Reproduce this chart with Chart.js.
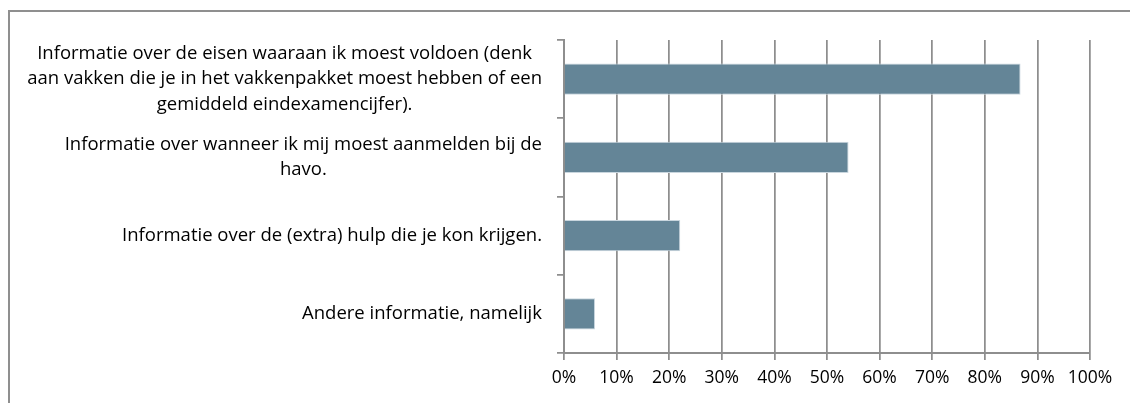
<!DOCTYPE html>
<html>
<head>
<meta charset="utf-8">
<script src="https://cdn.jsdelivr.net/npm/chart.js@4"></script>
<style>
  html, body { margin: 0; padding: 0; background: #fff; overflow: hidden; }
  #frame { position: absolute; left: 8px; top: 10px; width: 1140px; height: 420px;
           border-left: 2px solid #8f8f8f; border-top: 2px solid #8f8f8f; }
  #wrap { position: absolute; left: 0; top: 0; width: 1130px; height: 403px; }
</style>
</head>
<body>
<div id="frame"></div>
<div id="wrap"><canvas id="grafiek" width="1130" height="403"></canvas></div>
<script>
// categorieen (regels zoals in de figuur afgebroken)
var categorieen = [
  ['Informatie over de eisen waaraan ik moest voldoen (denk', 'aan vakken die je in het vakkenpakket moest hebben of een', 'gemiddeld eindexamencijfer).'],
  ['Informatie over wanneer ik mij moest aanmelden bij de', 'havo.'],
  ['Informatie over de (extra) hulp die je kon krijgen.'],
  ['Andere informatie, namelijk']
]
var waarden = [86.8, 54.1, 22.1, 5.9]
var tickWaarden = [0, 10, 20, 30, 40, 50, 60, 70, 80, 90, 100]

var familie = 'Open Sans'
var grijs = '#8e8e8e'

// labels links: blok rechts uitgelijnd, regels gecentreerd
var labelPlugin = {
  id: 'labels',
  afterDraw: function (chart) {
    var c = chart.ctx
    var y = chart.scales.y
    var rechts = 542
    var regelHoogte = 25.5
    c.save()
    c.font = '18.5px "' + familie + '"'
    c.fillStyle = '#000'
    c.textAlign = 'center'
    c.textBaseline = 'middle'
    for (var i = 0; i < categorieen.length; i++) {
      var regels = categorieen[i]
      var breed = 0
      regels.forEach(function (r) { breed = Math.max(breed, c.measureText(r).width) })
      var midX = rechts - breed / 2
      var midY = y.getPixelForTick(i)
      for (var j = 0; j < regels.length; j++) {
        c.fillText(regels[j], midX, midY + (j - (regels.length - 1) / 2) * regelHoogte)
      }
    }
    c.restore()
  }
}

var ctx = document.getElementById('grafiek')

new Chart(ctx, {
  type: 'bar',
  data: {
    labels: categorieen.map(function (c) { return c.join(' ') }),
    datasets: [{
      data: waarden,
      backgroundColor: '#648597',
      borderColor: '#c9d6de',
      borderWidth: 1,
      borderSkipped: 'left',
      barPercentage: 0.4,
      categoryPercentage: 1
    }]
  },
  options: {
    indexAxis: 'y',
    responsive: false,
    animation: false,
    layout: { padding: { left: 0, right: 40, top: 40, bottom: 0 } },
    plugins: {
      legend: { display: false },
      tooltip: { enabled: false }
    },
    scales: {
      x: {
        min: 0,
        max: 100,
        afterBuildTicks: function (scale) {
          scale.ticks = tickWaarden.map(function (v) { return { value: v } })
        },
        afterFit: function (scale) { scale.height = 50 },
        ticks: {
          font: { family: familie, size: 17.5 },
          color: '#000',
          padding: 8,
          maxRotation: 0,
          callback: function (v) { return v + '%' }
        },
        grid: { color: grijs, lineWidth: 1.75, tickLength: 7, tickColor: grijs },
        border: { color: grijs, width: 2 }
      },
      y: {
        afterFit: function (scale) { scale.width = 564 },
        ticks: { display: false },
        grid: { drawOnChartArea: false, color: grijs, lineWidth: 1.75, tickLength: 7 },
        border: { color: grijs, width: 2 }
      }
    }
  },
  plugins: [labelPlugin]
})
</script>
</body>
</html>
